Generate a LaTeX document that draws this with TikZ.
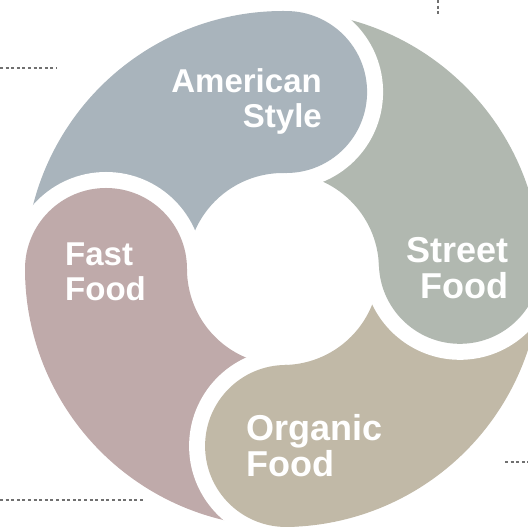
\documentclass[tikz,border=0pt]{standalone}
\usepackage{fontspec}
\setmainfont{Liberation Sans}
\usetikzlibrary{calc}

\definecolor{amercol}{HTML}{A9B4BC}
\definecolor{streetcol}{HTML}{B1B8B0}
\definecolor{organiccol}{HTML}{C1B9A7}
\definecolor{fastcol}{HTML}{BFAAAA}
\definecolor{leadcol}{HTML}{707070}

\begin{document}
\begin{tikzpicture}[
    x=1pt, y=1pt,
    lbl/.style={font=\bfseries\fontsize{33}{35}\selectfont, text=white, inner sep=0pt},
    lblbig/.style={lbl, font=\bfseries\fontsize{36}{36}\selectfont},
    gapdisc/.style={fill=white},
    leader/.style={draw=leadcol, line width=1.2pt, dash pattern=on 3pt off 2.6pt},
]

\useasboundingbox (0,0) rectangle (528,527);
\clip (0,0) rectangle (528,527);

% Centre and bulb centres
\coordinate (c) at (283,258);
\coordinate (bamer) at ($(c)+(89:177)$);
\coordinate (bfast) at ($(c)+(180:177)$);
\coordinate (borganic) at ($(c)+(271:177)$);
\coordinate (bstreet) at ($(c)+(2:177)$);

% Ring sectors
\fill[amercol] ($(c)+(89:258)$) arc[start angle=89, end angle=180, radius=258]
    -- ($(c)+(180:96)$) arc[start angle=180, end angle=89, radius=96] -- cycle;
\fill[fastcol] ($(c)+(180:258)$) arc[start angle=180, end angle=271, radius=258]
    -- ($(c)+(271:96)$) arc[start angle=271, end angle=180, radius=96] -- cycle;
\fill[organiccol] ($(c)+(271:258)$) arc[start angle=271, end angle=362, radius=258]
    -- ($(c)+(362:96)$) arc[start angle=362, end angle=271, radius=96] -- cycle;
\fill[streetcol] ($(c)+(2:258)$) arc[start angle=2, end angle=89, radius=258]
    -- ($(c)+(89:96)$) arc[start angle=89, end angle=2, radius=96] -- cycle;

% White gaps in front of each bulb
\fill[gapdisc] ($(bamer)+(89:97)$) arc[start angle=89, end angle=-91, radius=97] -- cycle;
\fill[gapdisc] ($(bfast)+(180:97)$) arc[start angle=180, end angle=0, radius=97] -- cycle;
\fill[gapdisc] ($(borganic)+(271:97)$) arc[start angle=271, end angle=91, radius=97] -- cycle;
\fill[gapdisc] ($(bstreet)+(2:97)$) arc[start angle=2, end angle=-178, radius=97] -- cycle;

% Bulbs
\fill[amercol] (bamer) circle[radius=81];
\fill[fastcol] (bfast) circle[radius=81];
\fill[organiccol] (borganic) circle[radius=81];
\fill[streetcol] (bstreet) circle[radius=81];

% Labels
\node[lbl, align=right, anchor=north east] (amer) at (322,459) {American\\Style};
\node[lblbig, align=right, anchor=north east] (street) at (509,290) {Street\\Food};
\node[lbl, align=left, anchor=north west] (fast) at (65,284) {Fast\\Food};
\node[lblbig, align=left, anchor=north west] (organic) at (246,113) {Organic\\Food};

% Leader lines
\coordinate (ltop) at (438,527);
\coordinate (ltopend) at (438,512);
\coordinate (lleft) at (0,459);
\coordinate (lleftend) at (57,459);
\coordinate (lbotleft) at (0,27);
\coordinate (lbotleftend) at (145,27);
\coordinate (lbotright) at (505,65);
\coordinate (lbotrightend) at (528,65);

\draw[leader] (ltop) -- (ltopend);
\draw[leader] (lleft) -- (lleftend);
\draw[leader] (lbotleft) -- (lbotleftend);
\draw[leader] (lbotright) -- (lbotrightend);

\end{tikzpicture}
\end{document}
